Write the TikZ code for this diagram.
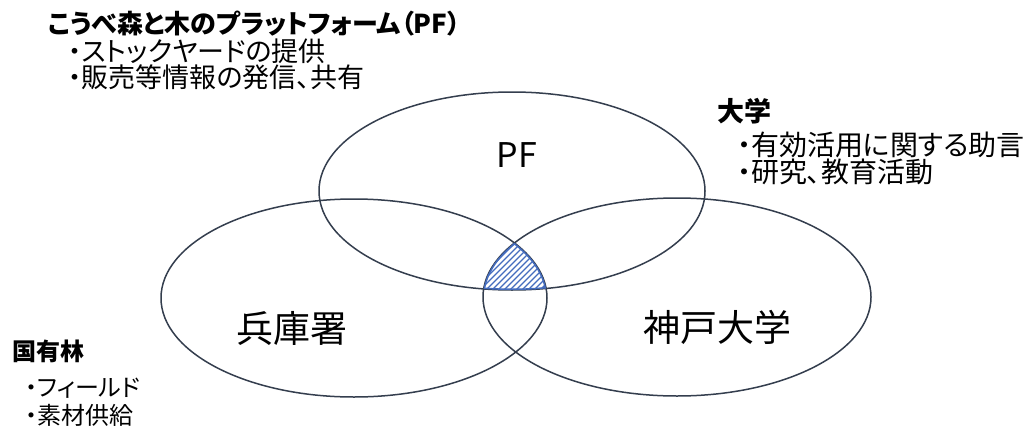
\documentclass[tikz,border=0pt]{standalone}
\usepackage{fontspec}
\newfontfamily\jp[RawFeature=+palt]{Noto Sans CJK JP}
\definecolor{ellc}{RGB}{52,62,78}
\definecolor{hatchc}{RGB}{68,108,190}
\begin{document}
\begin{tikzpicture}[x=1pt,y=-1pt,
  ell/.style={draw=ellc,line width=1.5pt},
  hatchline/.style={draw=hatchc,line width=1.3pt},
  big/.style={font=\jp\fontsize{37}{42}\selectfont,inner sep=0pt,text=black},
  bigpf/.style={font=\jp\fontsize{34}{40}\selectfont,inner sep=0pt,text=black},
  head/.style={font=\jp\bfseries\fontsize{26}{30}\selectfont,inner sep=0pt,anchor=west,text=black},
  item/.style={font=\jp\fontsize{27}{30}\selectfont,inner sep=0pt,anchor=west,text=black}]
\useasboundingbox (0,0) rectangle (1024,428);
\fill[white] (0,0) rectangle (1024,428);
% ellipses
\def\ellpf{(512,191) ellipse [x radius=193pt, y radius=99pt]}
\def\ellhy{(354,298) ellipse [x radius=193pt, y radius=99pt]}
\def\ellkd{(677,297) ellipse [x radius=194pt, y radius=99pt]}
\draw[ell] \ellpf;
\draw[ell] \ellhy;
\draw[ell] \ellkd;
% hatched intersection
\begin{scope}
  \clip \ellpf;
  \clip \ellhy;
  \clip \ellkd;
  \foreach \k in {0,...,28} {
    \draw[hatchline] (410+\k*6,300) -- ++(90,-90);
  }
  \draw[draw=hatchc,line width=3pt] \ellpf;
  \draw[draw=hatchc,line width=3pt] \ellhy;
  \draw[draw=hatchc,line width=3pt] \ellkd;
\end{scope}
% labels in ellipses
\node[bigpf] (pf) at (517,155) {PF};
\node[big] (hyogo) at (292,328) {兵庫署};
\node[big] (kobe) at (717,327) {神戸大学};
% annotations
\node[head] (pft) at (48,24) {こうべ森と木のプラットフォーム（PF）};
\node[item] (pf1) at (68,51) {・ストックヤードの提供};
\node[item] (pf2) at (68,77) {・販売等情報の発信、共有};
\node[head,font=\jp\bfseries\fontsize{27}{30}\selectfont] (uni) at (717,111) {大学};
\node[item,font=\jp\fontsize{28}{30}\selectfont] (uni1) at (737,145) {・有効活用に関する助言};
\node[item,font=\jp\fontsize{28}{30}\selectfont] (uni2) at (737,172) {・研究、教育活動};
\node[head,font=\jp\bfseries\fontsize{24}{28}\selectfont] (kok) at (12,351) {国有林};
\node[item,font=\jp\fontsize{24}{28}\selectfont] (kok1) at (25,388) {・フィールド};
\node[item,font=\jp\fontsize{24}{28}\selectfont] (kok2) at (25,415) {・素材供給};
\end{tikzpicture}
\end{document}
